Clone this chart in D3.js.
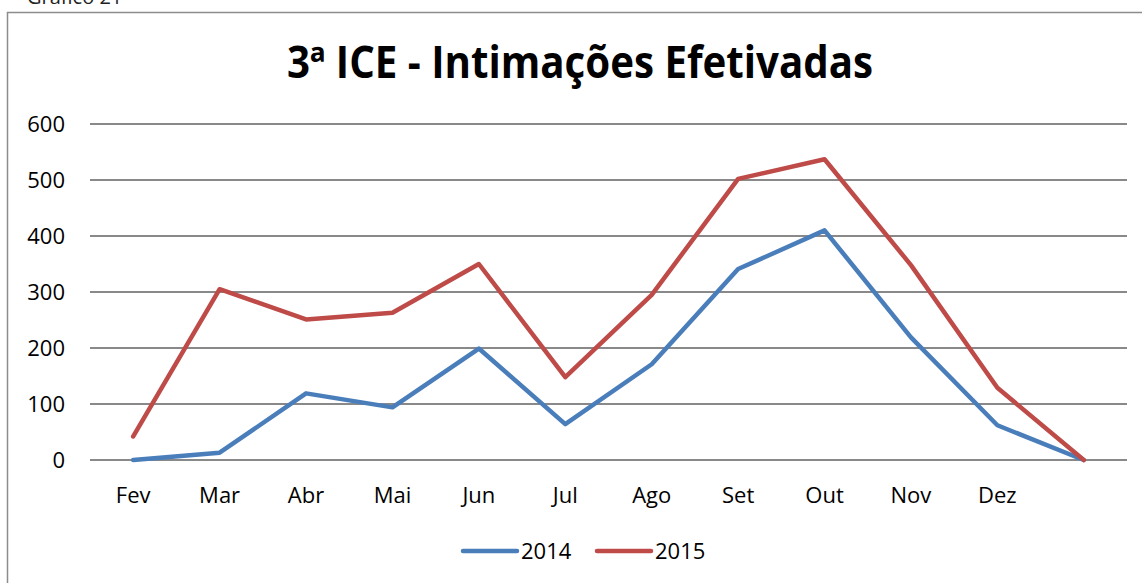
<!DOCTYPE html>
<html>
<head>
<meta charset="utf-8">
<script src="https://cdn.jsdelivr.net/npm/d3@7"></script>
<style>
  body { margin: 0; background: #fff; }
  svg { display: block; font-family: "Open Sans", "Noto Sans", sans-serif; }
</style>
</head>
<body>
<svg id="chart" width="1142" height="583"></svg>
<script>
const months = ["Fev", "Mar", "Abr", "Mai", "Jun", "Jul", "Ago", "Set", "Out", "Nov", "Dez", ""];
const values2014 = [0, 13, 119, 94, 199, 64, 171, 341, 410, 219, 62, 0];
const values2015 = [42, 305, 251, 263, 350, 148, 295, 502, 537, 348, 129, 0];
const yTicks = [0, 100, 200, 300, 400, 500, 600];
const series = [
      { name: "2014", values: values2014, color: "#4A7EBB" },
      { name: "2015", values: values2015, color: "#BE4B48" }
];

const svg = d3.select("#chart");

// caption cut off at the top of the picture
svg.append("text")
      .attr("x", 27).attr("y", 4)
      .attr("font-size", 20).attr("fill", "#222")
      .text("Gráfico 21");

// chart frame (right and bottom edges fall outside the picture)
svg.append("rect")
      .attr("x", 7.5).attr("y", 12.5)
      .attr("width", 1200).attr("height", 700)
      .attr("fill", "none").attr("stroke", "#8c8c8c").attr("stroke-width", 1.5);

svg.append("text")
      .attr("x", 287).attr("y", 78)
      .attr("font-weight", "bold")
      .attr("font-size", 44)
      .attr("textLength", 586)
      .attr("lengthAdjust", "spacingAndGlyphs")
      .attr("fill", "#000")
      .text("3ª ICE - Intimações Efetivadas");

const x = d3.scaleBand()
      .domain(d3.range(months.length))
      .range([90, 1127]);

const y = d3.scaleLinear()
      .domain([0, 600])
      .range([460, 124]);

// gridlines
svg.append("g")
      .selectAll("line")
      .data(yTicks)
      .join("line")
      .attr("x1", 90).attr("x2", 1127)
      .attr("y1", d => y(d)).attr("y2", d => y(d))
      .attr("stroke", "#898989").attr("stroke-width", 2);

// y labels
svg.append("g")
      .selectAll("text")
      .data(yTicks)
      .join("text")
      .attr("x", 65).attr("y", d => y(d) + 8)
      .attr("text-anchor", "end")
      .attr("font-size", 22).attr("fill", "#000")
      .text(d => d);

// x labels
svg.append("g")
      .selectAll("text")
      .data(months)
      .join("text")
      .attr("x", (d, i) => x(i) + x.bandwidth() / 2)
      .attr("y", 503)
      .attr("text-anchor", "middle")
      .attr("font-size", 22).attr("fill", "#000")
      .text(d => d);

const line = d3.line()
      .x((d, i) => x(i) + x.bandwidth() / 2)
      .y(d => y(d));

svg.append("g")
      .selectAll("path")
      .data(series)
      .join("path")
      .attr("d", d => line(d.values))
      .attr("fill", "none")
      .attr("stroke", d => d.color)
      .attr("stroke-width", 4.5)
      .attr("stroke-linejoin", "round")
      .attr("stroke-linecap", "round");

// legend
const legendX = [463, 597];
const legend = svg.append("g")
      .selectAll("g")
      .data(series)
      .join("g")
      .attr("transform", (d, i) => `translate(${legendX[i]},551)`);
legend.append("line")
      .attr("x1", 0).attr("x2", 54)
      .attr("stroke", d => d.color)
      .attr("stroke-width", 4.5)
      .attr("stroke-linecap", "round");
legend.append("text")
      .attr("x", 58).attr("y", 8)
      .attr("font-size", 22).attr("fill", "#000")
      .text(d => d.name);
</script>
</body>
</html>
